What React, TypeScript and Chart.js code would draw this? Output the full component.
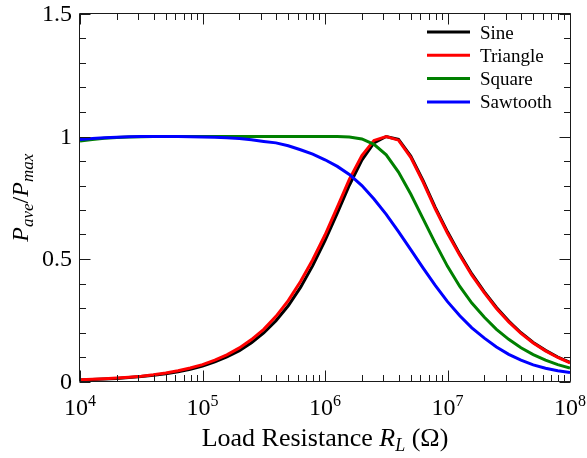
import React, { useEffect, useRef } from "react";
import { Chart, registerables } from "chart.js";

Chart.register(...registerables);

// Load resistance (ohm), 0.1-decade steps from 1e4 to 1e8
const resistance = [
  1.0e4, 1.26e4, 1.58e4, 2.0e4, 2.51e4, 3.16e4, 3.98e4, 5.01e4, 6.31e4, 7.94e4,
  1.0e5, 1.26e5, 1.58e5, 2.0e5, 2.51e5, 3.16e5, 3.98e5, 5.01e5, 6.31e5, 7.94e5,
  1.0e6, 1.26e6, 1.58e6, 2.0e6, 2.51e6, 3.16e6, 3.98e6, 5.01e6, 6.31e6, 7.94e6,
  1.0e7, 1.26e7, 1.58e7, 2.0e7, 2.51e7, 3.16e7, 3.98e7, 5.01e7, 6.31e7, 7.94e7,
  1.0e8,
];

const sine = [
  0.0063, 0.008, 0.01, 0.0126, 0.0159, 0.02, 0.0252, 0.0317, 0.0399, 0.05,
  0.063, 0.08, 0.1, 0.126, 0.158, 0.198, 0.248, 0.309, 0.384, 0.473,
  0.575, 0.687, 0.801, 0.904, 0.974, 1.0, 0.988, 0.92, 0.821, 0.711,
  0.611, 0.52, 0.439, 0.366, 0.302, 0.247, 0.199, 0.159, 0.127, 0.1,
  0.078,
];

const triangle = [
  0.0069, 0.0087, 0.011, 0.0138, 0.0174, 0.0219, 0.0276, 0.0347, 0.0437, 0.055,
  0.069, 0.087, 0.109, 0.137, 0.171, 0.213, 0.266, 0.33, 0.408, 0.497,
  0.598, 0.712, 0.825, 0.922, 0.984, 1.0, 0.985, 0.915, 0.815, 0.705,
  0.605, 0.515, 0.434, 0.362, 0.298, 0.243, 0.196, 0.157, 0.125, 0.098,
  0.076,
];

const square = [
  0.982, 0.988, 0.993, 0.996, 0.998, 0.999, 1.0, 1.0, 1.0, 1.0,
  1.0, 1.0, 1.0, 1.0, 1.0, 1.0, 1.0, 1.0, 1.0, 1.0,
  1.0, 1.0, 0.998, 0.99, 0.968, 0.925, 0.855, 0.765, 0.665, 0.565,
  0.47, 0.388, 0.32, 0.262, 0.213, 0.172, 0.138, 0.11, 0.087, 0.069,
  0.055,
];

const sawtooth = [
  0.988, 0.992, 0.995, 0.997, 0.999, 1.0, 1.0, 1.0, 1.0, 0.999,
  0.998, 0.997, 0.995, 0.992, 0.987, 0.98, 0.974, 0.962, 0.946, 0.928,
  0.905, 0.878, 0.845, 0.8, 0.745, 0.682, 0.612, 0.538, 0.464, 0.392,
  0.326, 0.268, 0.219, 0.177, 0.141, 0.111, 0.087, 0.068, 0.054, 0.044,
  0.037,
];

const seriesLabels = ["Sine", "Triangle", "Square", "Sawtooth"];
const seriesColors = ["#000000", "#ff0000", "#008000", "#0000ff"];
const seriesValues = [sine, triangle, square, sawtooth];

const xMajorExponents = [4, 5, 6, 7, 8];
const yMajorTicks = [0, 0.5, 1, 1.5];
const yTickLabels = ["0", "0.5", "1", "1.5"];
const yMinorStep = 0.1;

const SERIF = "'Liberation Serif', 'Times New Roman', serif";

const decorPlugin = {
  id: "decor",
  afterDraw(chart: any) {
    const ctx: CanvasRenderingContext2D = chart.ctx;
    const xs = chart.scales.x;
    const ys = chart.scales.y;
    const { left, right, top, bottom } = chart.chartArea;
    const L = left - 0.5;
    const R = right + 0.5;
    const T = top - 0.5;
    const B = bottom;
    ctx.save();
    ctx.strokeStyle = "#1a1a1a";
    ctx.lineWidth = 1;
    ctx.beginPath();
    ctx.rect(L, T, R - L, B - T);
    ctx.stroke();

    const majorLen = 11;
    const minorLen = 6.5;
    ctx.beginPath();
    for (let i = 0; i < xMajorExponents.length; i++) {
      const e = xMajorExponents[i];
      const px = Math.round(xs.getPixelForValue(Math.pow(10, e))) + 0.5;
      ctx.moveTo(px, B);
      ctx.lineTo(px, B - majorLen);
      ctx.moveTo(px, T);
      ctx.lineTo(px, T + majorLen);
      if (i < xMajorExponents.length - 1) {
        for (let m = 2; m <= 9; m++) {
          const p = Math.round(xs.getPixelForValue(m * Math.pow(10, e))) + 0.5;
          ctx.moveTo(p, B);
          ctx.lineTo(p, B - minorLen);
          ctx.moveTo(p, T);
          ctx.lineTo(p, T + minorLen);
        }
      }
    }
    const ymax = yMajorTicks[yMajorTicks.length - 1];
    for (let k = 0; k <= Math.round(ymax / yMinorStep); k++) {
      const v = k * yMinorStep;
      const isMajor = k % 5 === 0;
      const len = isMajor ? majorLen : minorLen;
      const py = Math.round(ys.getPixelForValue(v)) + 0.5;
      ctx.moveTo(L, py);
      ctx.lineTo(L + len, py);
      ctx.moveTo(R, py);
      ctx.lineTo(R - len, py);
    }
    ctx.stroke();

    // y tick labels
    ctx.fillStyle = "#000";
    ctx.font = `24px ${SERIF}`;
    ctx.textAlign = "right";
    ctx.textBaseline = "middle";
    yMajorTicks.forEach((v, i) => {
      ctx.fillText(yTickLabels[i], left - 8, ys.getPixelForValue(v) + 1);
    });

    // x tick labels 10^n
    ctx.textBaseline = "alphabetic";
    ctx.textAlign = "left";
    xMajorExponents.forEach((e) => {
      const px = xs.getPixelForValue(Math.pow(10, e));
      ctx.font = `24px ${SERIF}`;
      const w1 = ctx.measureText("10").width;
      ctx.font = `16px ${SERIF}`;
      const w2 = ctx.measureText(String(e)).width;
      const x0 = px - (w1 + w2) / 2;
      ctx.font = `24px ${SERIF}`;
      ctx.fillText("10", x0, 415);
      ctx.font = `16px ${SERIF}`;
      ctx.fillText(String(e), x0 + w1, 406);
    });

    // x axis title
    const xParts: [string, string, number][] = [
      ["Load Resistance ", `26px ${SERIF}`, 0],
      ["R", `italic 26px ${SERIF}`, 0],
      ["L", `italic 18px ${SERIF}`, 5],
      [" (\u03A9)", `26px ${SERIF}`, 0],
    ];
    let total = 0;
    xParts.forEach(([t, f]) => {
      ctx.font = f;
      total += ctx.measureText(t).width;
    });
    let cx = (left + right) / 2 - total / 2;
    xParts.forEach(([t, f, dy]) => {
      ctx.font = f;
      ctx.fillText(t, cx, 446 + dy);
      cx += ctx.measureText(t).width;
    });

    // y axis title (rotated)
    const yParts: [string, string, number][] = [
      ["P", `italic 24px ${SERIF}`, 0],
      ["ave", `italic 17px ${SERIF}`, 5],
      ["/", `24px ${SERIF}`, 0],
      ["P", `italic 24px ${SERIF}`, 0],
      ["max", `italic 17px ${SERIF}`, 5],
    ];
    let ytotal = 0;
    yParts.forEach(([t, f]) => {
      ctx.font = f;
      ytotal += ctx.measureText(t).width;
    });
    ctx.save();
    ctx.translate(28, (top + bottom) / 2);
    ctx.rotate(-Math.PI / 2);
    let cy = -ytotal / 2;
    yParts.forEach(([t, f, dy]) => {
      ctx.font = f;
      ctx.fillText(t, cy, dy);
      cy += ctx.measureText(t).width;
    });
    ctx.restore();

    // legend
    ctx.font = `19px ${SERIF}`;
    ctx.textBaseline = "alphabetic";
    ctx.textAlign = "left";
    seriesLabels.forEach((lab, i) => {
      const yy = 32 + i * 23.3;
      ctx.strokeStyle = seriesColors[i];
      ctx.lineWidth = 3;
      ctx.beginPath();
      ctx.moveTo(427, yy);
      ctx.lineTo(470, yy);
      ctx.stroke();
      ctx.fillStyle = "#000";
      ctx.fillText(lab, 480, yy + 6.5);
    });
    ctx.restore();
  },
};

export default function App() {
  const ref = useRef<HTMLCanvasElement | null>(null);
  useEffect(() => {
    if (!ref.current) return;
    const datasets = seriesLabels.map((lab, i) => ({
      label: lab,
      data: resistance.map((r, k) => ({ x: r, y: seriesValues[i][k] })),
      borderColor: seriesColors[i],
      backgroundColor: seriesColors[i],
      borderWidth: 3,
      pointRadius: 0,
      fill: false,
      tension: 0,
      order: seriesLabels.length - i,
    }));
    const chart = new Chart(ref.current, {
      type: "line",
      data: { datasets },
      options: {
        animation: false,
        responsive: false,
        devicePixelRatio: 1,
        layout: { padding: { left: 80, right: 17, top: 14, bottom: 76.5 } },
        plugins: { legend: { display: false }, tooltip: { enabled: false } },
        scales: {
          x: { type: "logarithmic", min: 1e4, max: 1e8, display: false },
          y: { type: "linear", min: 0, max: 1.5, display: false },
        },
      },
      plugins: [decorPlugin],
    });
    return () => chart.destroy();
  }, []);
  return (
    <div style={{ position: "fixed", left: 0, top: 0, width: 587, height: 458, background: "#fff" }}>
      <canvas ref={ref} width={587} height={458} />
    </div>
  );
}
